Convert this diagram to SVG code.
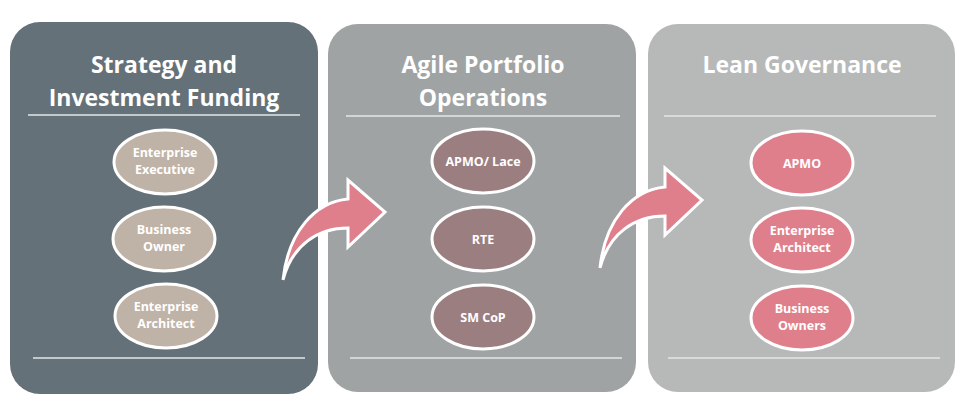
<svg xmlns="http://www.w3.org/2000/svg" width="966" height="401" viewBox="0 0 966 401">
<style>
.t{font-family:"Open Sans","Liberation Sans",sans-serif;font-weight:bold;fill:#fff;text-anchor:middle}
.h{font-size:23px}
.n{font-size:12.5px}
.ln{stroke:#e6e6e6;stroke-width:1.5}
.e{stroke:#fff;stroke-width:3}
.ar{fill:#e07f8c;stroke:#fff;stroke-width:3;stroke-linejoin:miter}
</style>
<rect width="966" height="401" fill="#fff"/>
<g id="panel1">
<rect x="10" y="22" width="308" height="372" rx="30" fill="#657179"/>
<text class="t h" x="164" y="73">Strategy and</text>
<text class="t h" x="164" y="106">Investment Funding</text>
<line class="ln" x1="28" y1="115" x2="300" y2="115"/>
<line class="ln" x1="33" y1="358" x2="305" y2="358"/>
</g>
<g id="panel2">
<rect x="328" y="24" width="308" height="368" rx="30" fill="#a0a3a4"/>
<text class="t h" x="483" y="73">Agile Portfolio</text>
<text class="t h" x="483" y="106">Operations</text>
<line class="ln" x1="346" y1="116" x2="620" y2="116"/>
<line class="ln" x1="350" y1="358" x2="622" y2="358"/>
</g>
<g id="panel3">
<rect x="648" y="24" width="307" height="368" rx="30" fill="#b7b9b9"/>
<text class="t h" x="802" y="73">Lean Governance</text>
<line class="ln" x1="664" y1="116" x2="936" y2="116"/>
<line class="ln" x1="668" y1="358" x2="940" y2="358"/>
</g>
<g id="n1"><ellipse class="e" cx="165" cy="162" rx="51" ry="32" fill="#bfb3a7"/><text class="t n" x="165" y="157">Enterprise</text><text class="t n" x="165" y="174">Executive</text></g>
<g id="n2"><ellipse class="e" cx="164" cy="239" rx="51" ry="32" fill="#bfb3a7"/><text class="t n" x="164" y="234">Business</text><text class="t n" x="164" y="251">Owner</text></g>
<g id="n3"><ellipse class="e" cx="166" cy="316" rx="51" ry="32" fill="#bfb3a7"/><text class="t n" x="166" y="311">Enterprise</text><text class="t n" x="166" y="328">Architect</text></g>
<g id="n4"><ellipse class="e" cx="483" cy="161" rx="51" ry="32" fill="#9b7e7f"/><text class="t n" x="483" y="166">APMO/ Lace</text></g>
<g id="n5"><ellipse class="e" cx="483" cy="239" rx="51" ry="32" fill="#9b7e7f"/><text class="t n" x="483" y="244">RTE</text></g>
<g id="n6"><ellipse class="e" cx="483" cy="317" rx="51" ry="32" fill="#9b7e7f"/><text class="t n" x="483" y="322">SM CoP</text></g>
<g id="n7"><ellipse class="e" cx="802" cy="163" rx="51" ry="32" fill="#df7f8c"/><text class="t n" x="802" y="168">APMO</text></g>
<g id="n8"><ellipse class="e" cx="802" cy="240" rx="51" ry="32" fill="#df7f8c"/><text class="t n" x="802" y="235">Enterprise</text><text class="t n" x="802" y="252">Architect</text></g>
<g id="n9"><ellipse class="e" cx="802" cy="318" rx="51" ry="32" fill="#df7f8c"/><text class="t n" x="802" y="313">Business</text><text class="t n" x="802" y="330">Owners</text></g>
<g id="connectors">
<path class="ar" d="M283,280 C288,232 315,202 348,199 L348,180 L385,212 L348,247 L348,228 C318,228 292,245 283,280 Z"/>
<path class="ar" d="M600,268 C605,220 632,190 665,187 L665,168 L702,200 L665,235 L665,216 C635,216 609,233 600,268 Z"/>
</g>
</svg>
